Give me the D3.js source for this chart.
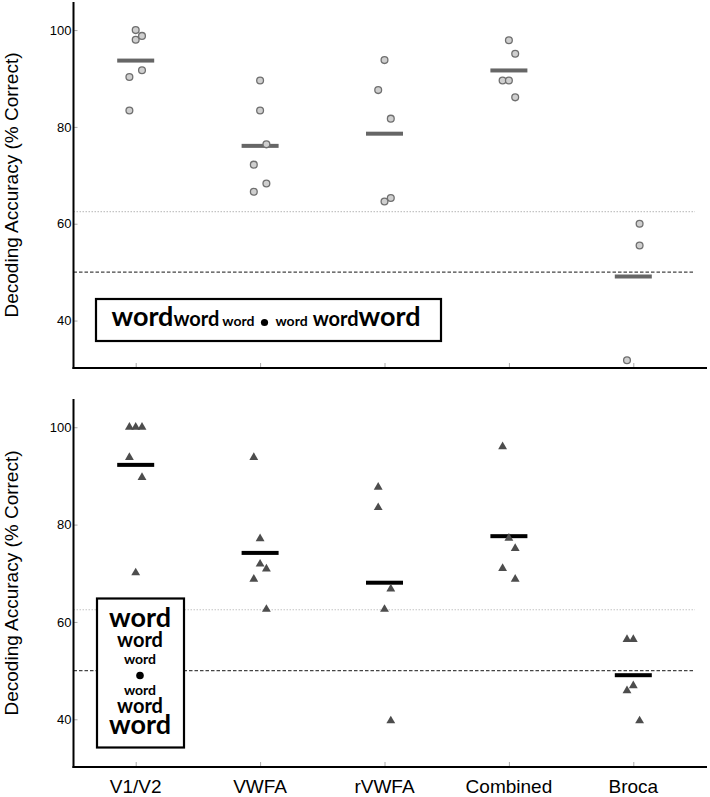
<!DOCTYPE html>
<html>
<head>
<meta charset="utf-8">
<script src="https://cdn.jsdelivr.net/npm/d3@7"></script>
<style>
  body { margin: 0; background: #fff; }
  text { font-family: "Liberation Sans", Arial, sans-serif; }
  .word { font-family: Lato, "Open Sans", sans-serif; font-weight: bold; fill: #000; }
</style>
</head>
<body>
<svg id="chart" width="710" height="797"></svg>
<script>
// data
const regions = ["V1/V2", "VWFA", "rVWFA", "Combined", "Broca"];
const yTicks = [40, 60, 80, 100];
const chance = 50;
const threshold = 62.5;

// upper panel (circles), one array per region
const topValues = [
  [100, 98, 98.8, 91.7, 90.3, 83.4],
  [89.6, 83.4, 76.4, 72.2, 68.3, 66.6],
  [93.8, 87.6, 81.7, 65.3, 64.6],
  [97.9, 95.1, 89.6, 89.6, 86.1],
  [60, 55.5, 31.8]
];
// side-by-side offset of overlapping points (-1 left, 0 centre, 1 right)
const topDodge = [
  [0, 0, 1, 1, -1, -1],
  [0, 0, 1, -1, 1, -1],
  [0, -1, 1, 1, 0],
  [0, 1, -1, 0, 1],
  [1, 1, -1]
];

// lower panel (triangles)
const bottomValues = [
  [100, 100, 100, 93.8, 89.7, 70.1],
  [93.8, 77.1, 71.9, 70.9, 68.8, 62.6],
  [87.7, 83.5, 66.8, 62.6, 39.7],
  [96, 77.2, 75.1, 71, 68.8],
  [56.4, 56.4, 46.9, 45.9, 39.7]
];
const bottomDodge = [
  [-1, 0, 1, -1, 1, 0],
  [-1, 0, 0, 1, -1, 1],
  [-1, -1, 1, 0, 1],
  [-1, 0, 1, -1, 1],
  [-1, 0, 0, -1, 1]
];

const svg = d3.select("#chart");
const axisX = 73.5;
const x = d3.scalePoint().domain(regions).range([axisX, 695.5]).padding(0.5);
const dodgeStep = 6.3;

function drawPanel(top, bottom, values, dodge, marker, meanColor) {
  const y = d3.scaleLinear().domain([30.2, 105.8]).range([bottom, top]);
  const g = svg.append("g");

  // reference lines
  g.append("line")
    .attr("x1", axisX).attr("x2", 695)
    .attr("y1", y(threshold)).attr("y2", y(threshold))
    .attr("stroke", "#c4c4c4").attr("stroke-width", 1.2)
    .attr("stroke-dasharray", "1.5,1.5");
  g.append("line")
    .attr("x1", axisX).attr("x2", 695)
    .attr("y1", y(chance)).attr("y2", y(chance))
    .attr("stroke", "#444").attr("stroke-width", 1.4)
    .attr("stroke-dasharray", "3.5,2");

  // y axis
  const yAxis = g.append("g")
    .attr("transform", `translate(${axisX},0)`)
    .call(d3.axisLeft(y).tickValues(yTicks).tickSize(-4).tickPadding(2));
  yAxis.select(".domain").remove();
  yAxis.selectAll(".tick line").attr("stroke", "#aaa");
  yAxis.selectAll(".tick text")
    .attr("font-size", 13).attr("fill", "#000")
    .attr("font-family", "Liberation Sans, Arial, sans-serif");

  // x axis ticks
  const xAxis = g.append("g")
    .attr("transform", `translate(0,${bottom})`)
    .call(d3.axisBottom(x).tickSize(-5).tickFormat(""));
  xAxis.select(".domain").remove();
  xAxis.selectAll(".tick line").attr("stroke", "#aaa");

  g.append("line")
    .attr("x1", axisX).attr("x2", axisX)
    .attr("y1", top).attr("y2", bottom + 1)
    .attr("stroke", "#000").attr("stroke-width", 2);
  g.append("line")
    .attr("x1", axisX - 1).attr("x2", 707)
    .attr("y1", bottom).attr("y2", bottom)
    .attr("stroke", "#000").attr("stroke-width", 2);

  g.append("text")
    .attr("transform", `translate(18,${(top + bottom) / 2}) rotate(-90)`)
    .attr("text-anchor", "middle")
    .attr("font-size", 19)
    .text("Decoding Accuracy (% Correct)");

  // means
  g.selectAll(".mean")
    .data(values)
    .enter()
    .append("rect")
    .attr("class", "mean")
    .attr("x", (d, i) => x(regions[i]) - 18.5)
    .attr("y", d => y(d3.mean(d)) - 2)
    .attr("width", 37)
    .attr("height", 4)
    .attr("fill", meanColor);

  // subjects
  const pts = [];
  values.forEach((arr, i) => arr.forEach((v, j) => pts.push({ r: regions[i], v: v, o: dodge[i][j] })));

  if (marker === "circle") {
    g.selectAll(".pt")
      .data(pts)
      .enter()
      .append("circle")
      .attr("cx", d => x(d.r) + d.o * dodgeStep)
      .attr("cy", d => y(d.v))
      .attr("r", 3.4)
      .attr("fill", "#cfcfcf")
      .attr("stroke", "#6f6f6f")
      .attr("stroke-width", 1.3);
  } else {
    g.selectAll(".pt")
      .data(pts)
      .enter()
      .append("path")
      .attr("d", d3.symbol().type(d3.symbolTriangle).size(34))
      .attr("transform", d => `translate(${x(d.r) + d.o * dodgeStep},${y(d.v)})`)
      .attr("fill", "#4d4d4d");
  }
  return g;
}

drawPanel(2, 368, topValues, topDodge, "circle", "#666");
drawPanel(399, 767, bottomValues, bottomDodge, "triangle", "#000");

// region names
svg.selectAll(".region")
  .data(regions)
  .enter()
  .append("text")
  .attr("class", "region")
  .attr("x", d => x(d))
  .attr("y", 793)
  .attr("text-anchor", "middle")
  .attr("font-size", 19)
  .text(d => d);

// legend, upper panel: words growing outward from the fixation dot
const wordSizes = [27, 20, 14];
const leg1 = svg.append("g");
leg1.append("rect")
  .attr("x", 96).attr("y", 299).attr("width", 345).attr("height", 42)
  .attr("fill", "#fff").attr("stroke", "#000").attr("stroke-width", 2.2);
const leftWords = leg1.append("text").attr("class", "word")
  .attr("x", 254.5).attr("y", 326).attr("text-anchor", "end");
leftWords.append("tspan").attr("font-size", wordSizes[0]).text("word");
leftWords.append("tspan").attr("font-size", wordSizes[1]).text("word");
leftWords.append("tspan").attr("font-size", wordSizes[2]).attr("dx", 3).text("word");
leg1.append("circle").attr("cx", 264.5).attr("cy", 322.5).attr("r", 3.6).attr("fill", "#000");
const rightWords = leg1.append("text").attr("class", "word")
  .attr("x", 275.5).attr("y", 326).attr("text-anchor", "start");
rightWords.append("tspan").attr("font-size", wordSizes[2]).text("word");
rightWords.append("tspan").attr("font-size", wordSizes[1]).attr("dx", 5).text("word");
rightWords.append("tspan").attr("font-size", wordSizes[0]).text("word");

// legend, lower panel: stacked vertically
const leg2 = svg.append("g");
leg2.append("rect")
  .attr("x", 97).attr("y", 598.5).attr("width", 87).attr("height", 149)
  .attr("fill", "#fff").attr("stroke", "#000").attr("stroke-width", 2.2);
const stackBase = [626.5, 646.5, 664, 695, 712.5, 734];
const stackSize = [wordSizes[0], wordSizes[1], wordSizes[2], wordSizes[2], wordSizes[1], wordSizes[0]];
leg2.selectAll(".sw")
  .data(stackBase)
  .enter()
  .append("text")
  .attr("class", "word")
  .attr("x", 140)
  .attr("y", d => d)
  .attr("text-anchor", "middle")
  .attr("font-size", (d, i) => stackSize[i])
  .text("word");
leg2.append("circle").attr("cx", 140).attr("cy", 675.5).attr("r", 3.8).attr("fill", "#000");
</script>
</body>
</html>
